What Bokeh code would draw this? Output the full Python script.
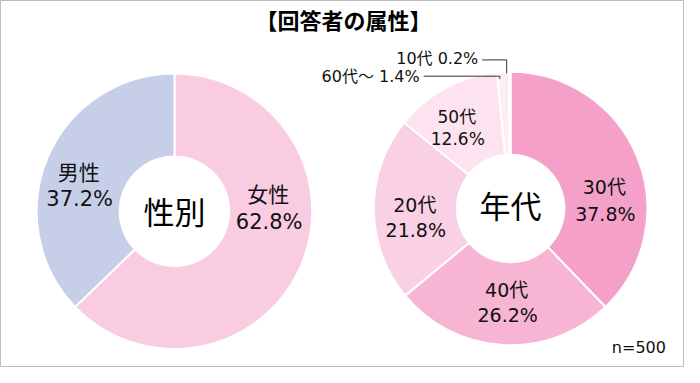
import math
from bokeh.plotting import figure
from bokeh.models import Range1d
from bokeh.core.properties import value
from bokeh.embed import file_html
from bokeh.resources import INLINE

# ---- data ----
title_text = "【回答者の属性】"
gender_labels = ["女性", "男性"]
gender_values = [62.8, 37.2]
gender_colors = ["#f9cce2", "#c7cfe8"]

age_labels = ["30代", "40代", "20代", "50代", "60代～", "10代"]
age_values = [37.8, 26.2, 21.8, 12.6, 1.4, 0.2]
age_colors = ["#f5a0c8", "#f7b5d3", "#fad0e4", "#fde3ef", "#fdeef5", "#fef6fa"]

sample_note = "n=500"

FONT = value("DejaVu Sans, Noto Sans CJK JP, sans-serif")
W, H = 684, 367
RW, RH = 700, 383  # reference canvas in data units

p = figure(width=W, height=H, output_backend="svg", toolbar_location=None,
           x_range=Range1d(0, RW), y_range=Range1d(0, RH),
           min_border=0)
p.axis.visible = False
p.grid.visible = False
p.background_fill_color = "white"
p.border_fill_color = "white"
p.outline_line_color = "#bdbdbd"
p.outline_line_width = 1


def Y(y):
    return RH - y


def wedges(cx, cy, vals, cols, r_in, r_out):
    total = sum(vals)
    starts, ends = [], []
    cum = 0.0
    for v in vals:
        starts.append(math.pi / 2 - cum / total * 2 * math.pi)
        cum += v
        ends.append(math.pi / 2 - cum / total * 2 * math.pi)
    p.annular_wedge(x=[cx] * len(vals), y=[cy] * len(vals),
                    inner_radius=r_in, outer_radius=r_out,
                    start_angle=starts, end_angle=ends, direction="clock",
                    fill_color=cols, line_color="white", line_width=2)


# left donut
LCX, LCY = 178, Y(220)
wedges(LCX, LCY, gender_values, gender_colors, 56, 141)
# right donut
RCX, RCY = 522, Y(217)
wedges(RCX, RCY, age_values, age_colors, 55, 140)


def txt(x, y, s, size, align="center", weight="normal", color="#111111"):
    p.text(x=[x], y=[y], text=[s], text_font=FONT, text_font_size=f"{size}px",
           text_align=align, text_baseline="middle", text_color=color,
           text_font_style=weight)


# title
txt(351, Y(22), title_text, 22, weight="bold", color="#000000")

# center labels
txt(LCX, Y(222), "性別", 31, color="#000000")
txt(RCX, Y(216), "年代", 31, color="#000000")

# slice labels (layout: x, name-line y, pct-line y, font size)
gender_label_pos = [(274, 203, 231, 21), (80, 180, 207, 21)]
for lab, v, (x, y1, y2, fs) in zip(gender_labels, gender_values, gender_label_pos):
    txt(x, Y(y1), lab, fs)
    txt(x + 1, Y(y2), f"{v:.1f}%", fs)

age_label_pos = [(618, 195, 223, 19), (518, 302, 328, 19),
                 (424, 213, 240, 19), (467, 122, 145, 17)]
for lab, v, (x, y1, y2, fs) in zip(age_labels[:4], age_values[:4], age_label_pos):
    txt(x, Y(y1), lab, fs)
    txt(x + 1, Y(y2), f"{v:.1f}%", fs)

# small slices with leader lines
txt(489, Y(61), f"{age_labels[5]} {age_values[5]:.1f}%", 16, align="right")
txt(429, Y(79), f"{age_labels[4]} {age_values[4]:.1f}%", 16, align="right")
p.line(x=[493, 518, 518], y=[Y(62), Y(62), Y(76)], line_color="#333333", line_width=1)
p.line(x=[433, 511, 511], y=[Y(79), Y(79), Y(82)], line_color="#333333", line_width=1)

# n note
txt(681, Y(362), sample_note, 16, align="right")

open("out.html", "w").write(file_html(p, INLINE))
